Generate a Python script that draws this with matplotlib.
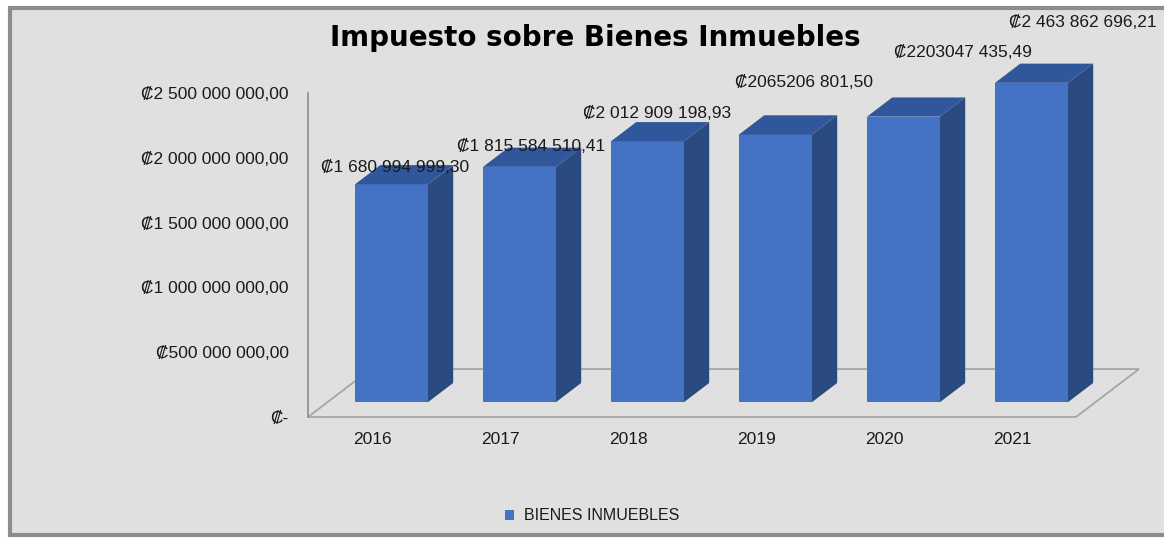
import numpy as np
import matplotlib.pyplot as plt
from matplotlib.patches import Polygon, Rectangle, Patch

# data
years = ['2016', '2017', '2018', '2019', '2020', '2021']
values = [1680994999.30, 1815584510.41, 2012909198.93, 2065206801.50, 2203047435.49, 2463862696.21]
value_labels = ['₡1 680 994 999,30', '₡1 815 584 510,41', '₡2 012 909 198,93',
                '₡2065206 801,50', '₡2203047 435,49', '₡2 463 862 696,21']
y_ticks = [0, 500e6, 1000e6, 1500e6, 2000e6, 2500e6]
y_tick_labels = ['₡-', '₡500 000 000,00', '₡1 000 000 000,00', '₡1 500 000 000,00',
                 '₡2 000 000 000,00', '₡2 500 000 000,00']

# label offsets from top front centre of each bar, pixels
label_dx = [4, 12, 10, 28, 59, 51]
label_dy = [17, 20, 28, 52, 64, 60]

font = ['Liberation Sans', 'DejaVu Sans']
c_front = '#4472C4'
c_side = '#2B4A80'
c_top = '#30569B'
bg = '#E0E0E0'

W, H = 1164, 539
fig = plt.figure(figsize=(W / 100, H / 100), dpi=100, facecolor='white')

# chart area
fig.patches.append(Rectangle((10 / W, 4 / H), 1.2, 527 / H, transform=fig.transFigure,
                             facecolor=bg, edgecolor='#8C8C8C', lw=3, zorder=-5))

ax = fig.add_axes([308 / W, 122 / H, 768 / W, 324 / H])
ax.set_facecolor('none')
ax.set_xlim(-0.5, 5.5)
ax.set_ylim(0, 2.5e9)

# oblique depth projection (data units for full depth)
DX = 0.492
DY = 0.370e9
d0, d1 = 0.31, 0.71
bw = 0.57

floor = Polygon([(-0.5, 0), (5.5, 0), (5.5 + DX, DY), (-0.5 + DX, DY)], closed=True,
                facecolor='none', edgecolor='#A6A6A6', lw=1.3, clip_on=False, zorder=1)
ax.add_patch(floor)

x = np.arange(len(years))
xf = x + d0 * DX
base = d0 * DY
ax.bar(xf, values, bottom=base, width=bw, color=c_front, zorder=3, clip_on=False)
ddx = (d1 - d0) * DX
ddy = (d1 - d0) * DY
for xi, v in zip(xf, values):
    l, r = xi - bw / 2, xi + bw / 2
    top = base + v
    side = Polygon([(r, base), (r + ddx, base + ddy), (r + ddx, top + ddy), (r, top)],
                   closed=True, facecolor=c_side, edgecolor='none', clip_on=False, zorder=3)
    tp = Polygon([(l, top), (r, top), (r + ddx, top + ddy), (l + ddx, top + ddy)],
                 closed=True, facecolor=c_top, edgecolor='none', clip_on=False, zorder=3)
    ax.add_patch(side)
    ax.add_patch(tp)

for xi, v, lab, dx, dy in zip(xf, values, value_labels, label_dx, label_dy):
    ax.annotate(lab, (xi, base + v), xytext=(dx, dy), textcoords='offset pixels',
                ha='center', va='center', fontsize=12.5, family=font, color='#1A1A1A',
                zorder=5, annotation_clip=False)

ax.set_yticks(y_ticks)
ax.set_yticklabels(y_tick_labels, family=font, fontsize=12.5, color='#1A1A1A')
ax.tick_params(axis='y', length=0, pad=14)
ax.set_xticks(x)
ax.set_xticklabels(years, family=font, fontsize=12.5, color='#1A1A1A')
ax.tick_params(axis='x', length=0, pad=11)
for s in ['top', 'right', 'bottom']:
    ax.spines[s].set_visible(False)
ax.spines['left'].set_color('#8C8C8C')
ax.spines['left'].set_linewidth(1.2)

fig.text(595 / W, 1 - 38 / H, 'Impuesto sobre Bienes Inmuebles', ha='center', va='center',
         fontsize=20, fontweight='bold', family='DejaVu Sans', color='black')

fig.legend(handles=[Patch(facecolor=c_front, label='BIENES INMUEBLES')],
           loc='center', bbox_to_anchor=(592 / W, 1 - 516 / H), frameon=False,
           prop={'family': font, 'size': 11.5}, handlelength=0.6, handleheight=0.6,
           handletextpad=0.6, labelcolor='#1A1A1A')

fig.savefig('out.png', dpi=100, facecolor=fig.get_facecolor())
